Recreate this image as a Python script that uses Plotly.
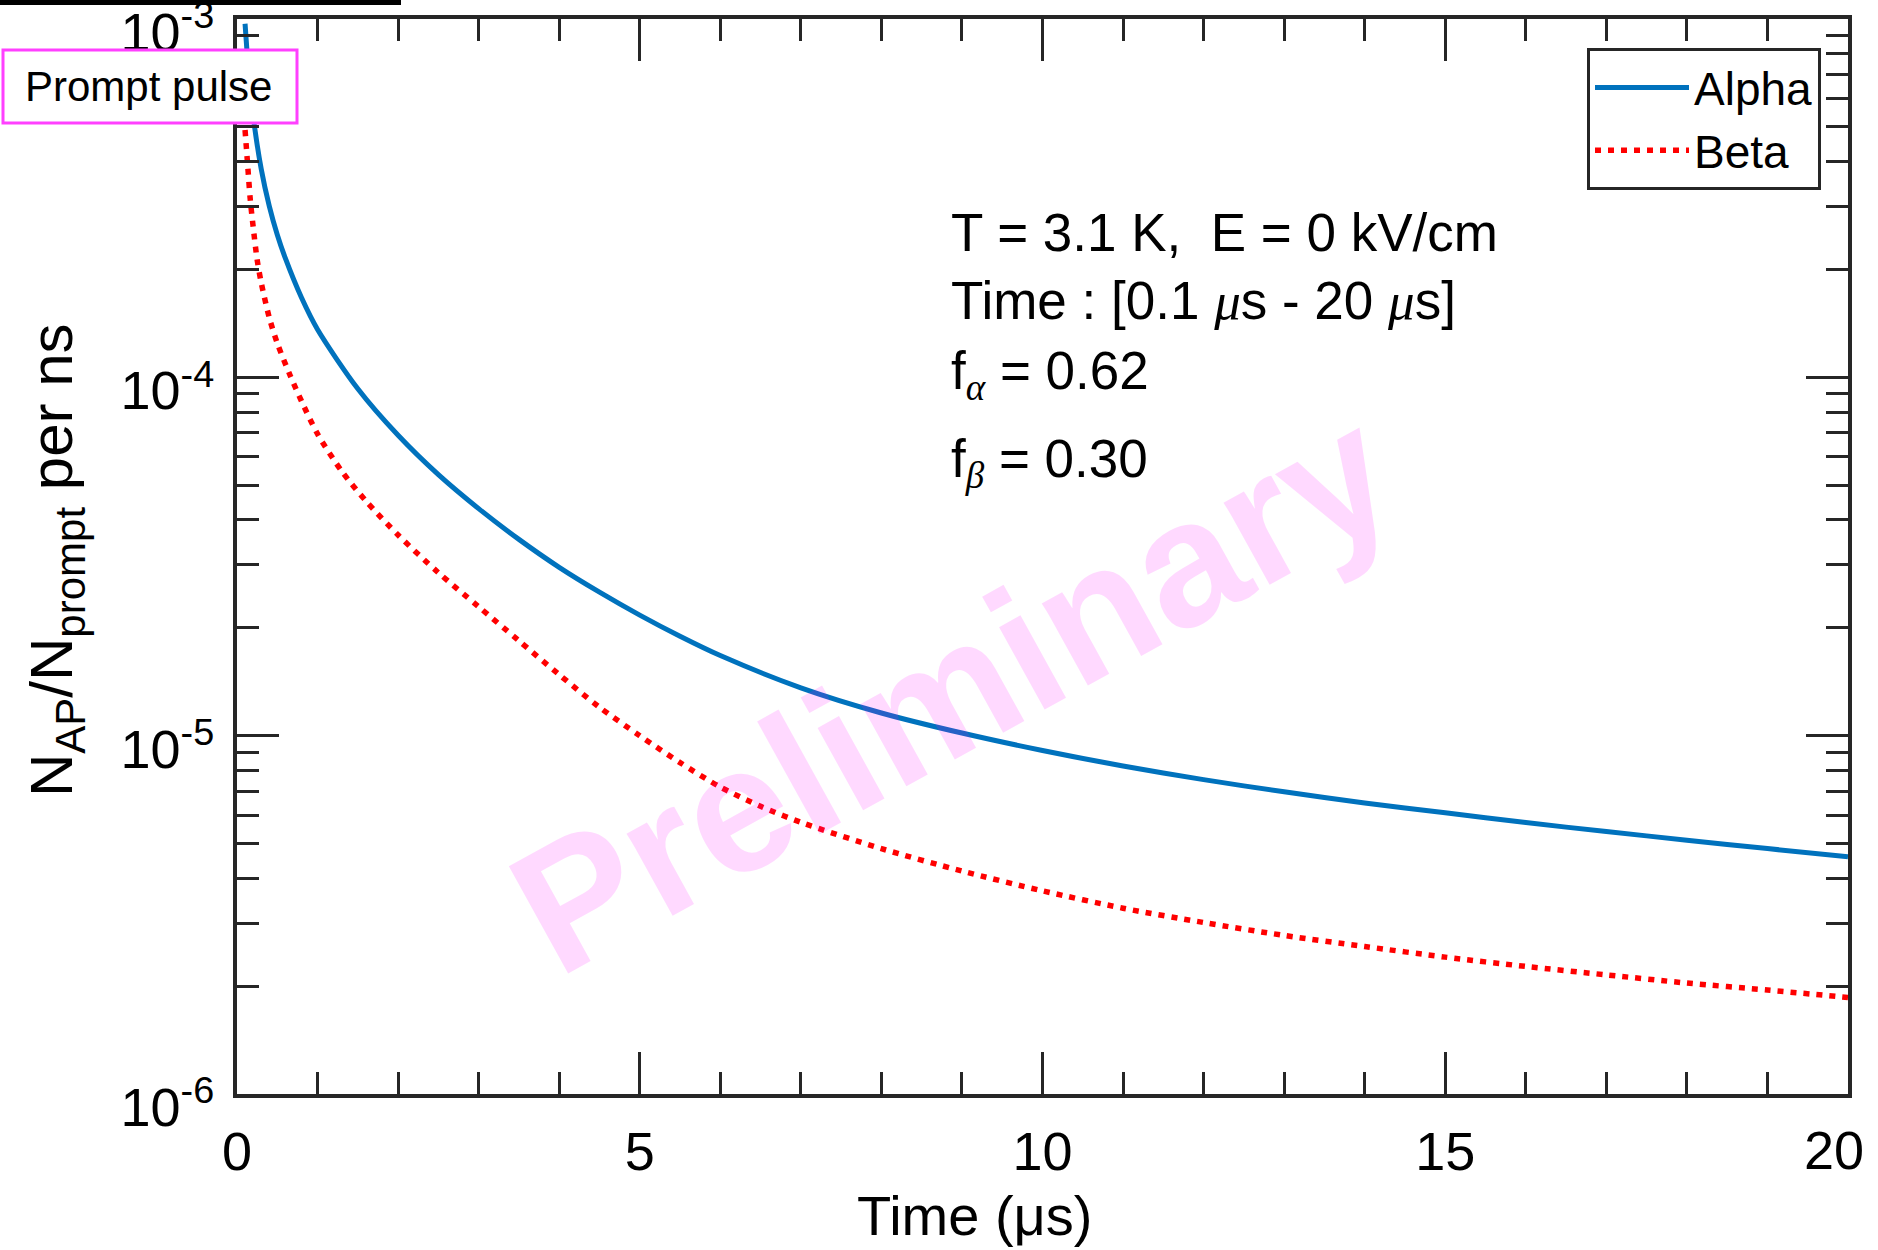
import plotly.graph_objects as go

# ---------------- data ----------------
time_alpha = [0.1, 0.15, 0.2, 0.3, 0.4, 0.5, 0.6, 0.8, 1.0, 1.5, 2.0, 2.5, 3.0, 3.5, 4.0,
              4.5, 5.0, 5.5, 6.0, 7.0, 8.0, 9.0, 10.0, 11.0, 12.0, 13.0, 14.0, 15.0,
              16.0, 17.0, 18.0, 19.0, 20.0]
alpha_vals = [9.70e-4, 6.85e-4, 5.37e-4, 3.82e-4, 3.01e-4, 2.50e-4, 2.15e-4, 1.67e-4,
              1.36e-4, 9.29e-5, 6.89e-5, 5.35e-5, 4.30e-5, 3.53e-5, 2.95e-5, 2.515e-5,
              2.17e-5, 1.894e-5, 1.673e-5, 1.36e-5, 1.157e-5, 1.017e-5, 9.09e-6, 8.23e-6,
              7.54e-6, 6.97e-6, 6.49e-6, 6.09e-6, 5.72e-6, 5.40e-6, 5.11e-6, 4.84e-6,
              4.59e-6]

time_beta = [0.1, 0.13, 0.165, 0.2, 0.25, 0.3, 0.4, 0.5, 0.66, 0.8, 1.0, 1.3, 1.6, 2.0,
             2.5, 3.0, 3.5, 4.0, 4.5, 5.0, 5.5, 6.0, 6.5, 7.0, 8.0, 9.0, 10.0, 11.0, 12.0,
             13.0, 14.0, 15.0, 16.0, 17.0, 18.0, 19.0, 20.0]
beta_vals = [4.90e-4, 3.98e-4, 3.13e-4, 2.64e-4, 2.13e-4, 1.84e-4, 1.47e-4, 1.245e-4,
             1.012e-4, 8.59e-5, 6.95e-5, 5.47e-5, 4.52e-5, 3.63e-5, 2.85e-5, 2.29e-5,
             1.84e-5, 1.48e-5, 1.20e-5, 1.00e-5, 8.41e-6, 7.19e-6, 6.35e-6, 5.73e-6,
             4.84e-6, 4.19e-6, 3.69e-6, 3.30e-6, 3.01e-6, 2.77e-6, 2.58e-6, 2.41e-6,
             2.27e-6, 2.15e-6, 2.04e-6, 1.95e-6, 1.86e-6]

series_names = ["Alpha", "Beta"]
x_ticks = [0, 5, 10, 15, 20]
x_ticktext = ["0", "5", "10", "15", ""]   # last label drawn separately (pulled inside)
x_last_label = "20"
x_minor = [1, 2, 3, 4, 6, 7, 8, 9, 11, 12, 13, 14, 16, 17, 18, 19]
y_ticks = [1e-6, 1e-5, 1e-4, 1e-3]
y_ticktext = ["10<sup>-6</sup>", "10<sup>-5</sup>", "10<sup>-4</sup>", "10<sup>-3</sup>"]
y_minor = [m * 10.0 ** e for e in (-6, -5, -4) for m in range(2, 10)]

GREEK = '<span style="font-family:Liberation Serif"><i>{}</i></span>'
info_lines = ["T = 3.1 K,  E = 0 kV/cm",
              "Time : [0.1 " + GREEK.format("μ") + "s - 20 " + GREEK.format("μ") + "s]",
              "f<sub>" + GREEK.format("α") + "</sub> = 0.62",
              "f<sub>" + GREEK.format("β") + "</sub> = 0.30"]

# ---------------- layout helpers ----------------
W, H = 1878, 1250
ML, MR, MT, MB = 237, 30, 19, 156
PW, PH = W - ML - MR, H - MT - MB
FONT = "Liberation Sans, Arial, Helvetica, sans-serif"
AXC = "#262626"


def px(x):
    return (x - ML) / PW


def py(y):
    return (H - MB - y) / PH


fig = go.Figure()
fig.add_trace(go.Scatter(x=time_alpha, y=alpha_vals, mode="lines", name=series_names[0],
                         line=dict(color="#0072BD", width=5, shape="spline", smoothing=0.8)))
fig.add_trace(go.Scatter(x=time_beta, y=beta_vals, mode="lines", name=series_names[1],
                         line=dict(color="#FF0000", width=5.5, dash="6px,7px",
                                   shape="spline", smoothing=0.8)))

fig.update_layout(
    width=W, height=H,
    margin=dict(l=ML, r=MR, t=MT, b=MB, pad=0, autoexpand=False),
    paper_bgcolor="white", plot_bgcolor="white",
    font=dict(family=FONT, color="black"),
    showlegend=True,
    legend=dict(x=px(1821), y=py(48), xanchor="right", yanchor="top",
                bgcolor="white", bordercolor=AXC, borderwidth=3,
                font=dict(size=46, color="black", family=FONT),
                itemwidth=94, tracegroupgap=0),
    xaxis=dict(range=[0, 20], tickmode="array", tickvals=x_ticks, ticktext=x_ticktext,
               ticks="inside", ticklen=42, tickwidth=3, tickcolor=AXC,
               showline=True, linecolor=AXC, linewidth=4, mirror="ticks",
               showgrid=False, zeroline=False, automargin=False,
               ticklabeloverflow="allow",
               tickfont=dict(size=54, color="black", family=FONT),
               ticklabelstandoff=7,
               minor=dict(tickmode="array", tickvals=x_minor, ticks="inside",
                          ticklen=22, tickwidth=3, tickcolor=AXC, showgrid=False)),
    yaxis=dict(type="log", range=[-6, -3], tickmode="array", tickvals=y_ticks,
               ticktext=y_ticktext,
               ticks="inside", ticklen=42, tickwidth=3, tickcolor=AXC,
               showline=True, linecolor=AXC, linewidth=4, mirror="ticks",
               showgrid=False, zeroline=False, automargin=False,
               ticklabeloverflow="allow",
               tickfont=dict(size=54, color="black", family=FONT),
               ticklabelstandoff=8, ticklabelshift=13,
               minor=dict(tickmode="array", tickvals=y_minor, ticks="inside",
                          ticklen=22, tickwidth=3, tickcolor=AXC, showgrid=False)),
)

# last x tick label, pulled slightly inside the figure like the reference
fig.add_annotation(x=20, xref="x", xshift=-14, y=py(1150), yref="paper",
                   text=x_last_label, showarrow=False, xanchor="center", yanchor="middle",
                   font=dict(size=54, color="black", family=FONT))

# axis titles as annotations
fig.add_annotation(x=px(974), y=py(1215), xref="paper", yref="paper",
                   text="Time (μs)", showarrow=False, xanchor="center", yanchor="middle",
                   font=dict(size=56, color="black", family=FONT))
fig.add_annotation(x=px(56), y=py(560), xref="paper", yref="paper",
                   text="N<sub>AP</sub>/N<sub>prompt</sub> per ns", showarrow=False,
                   textangle=-90, xanchor="center", yanchor="middle",
                   font=dict(size=60, color="black", family=FONT))

# info text block
info_y = [232, 301, 374, 462]
for txt, yy in zip(info_lines, info_y):
    fig.add_annotation(x=px(949), y=py(yy), xref="paper", yref="paper", text=txt,
                       showarrow=False, xanchor="left", yanchor="middle",
                       font=dict(size=53, color="black", family=FONT))

# watermark
fig.add_annotation(x=px(952), y=py(690), xref="paper", yref="paper",
                   text="<b>Preliminary</b>", showarrow=False, textangle=-29,
                   xanchor="center", yanchor="middle",
                   font=dict(size=178, color="rgba(255,0,255,0.15)", family=FONT))

# "Prompt pulse" box
fig.add_shape(type="rect", xref="paper", yref="paper", layer="above",
              x0=px(3), x1=px(297), y0=py(123), y1=py(50),
              fillcolor="white", line=dict(color="#FF40FF", width=3))
fig.add_annotation(x=px(148), y=py(87), xref="paper", yref="paper",
                   text="Prompt pulse", showarrow=False, xanchor="center", yanchor="middle",
                   font=dict(size=42, color="black", family=FONT))

# black bar at the very top-left
fig.add_shape(type="rect", xref="paper", yref="paper", layer="above",
              x0=px(0), x1=px(401), y0=py(5), y1=py(0),
              fillcolor="black", line=dict(width=0))

fig.write_html("out.html")
